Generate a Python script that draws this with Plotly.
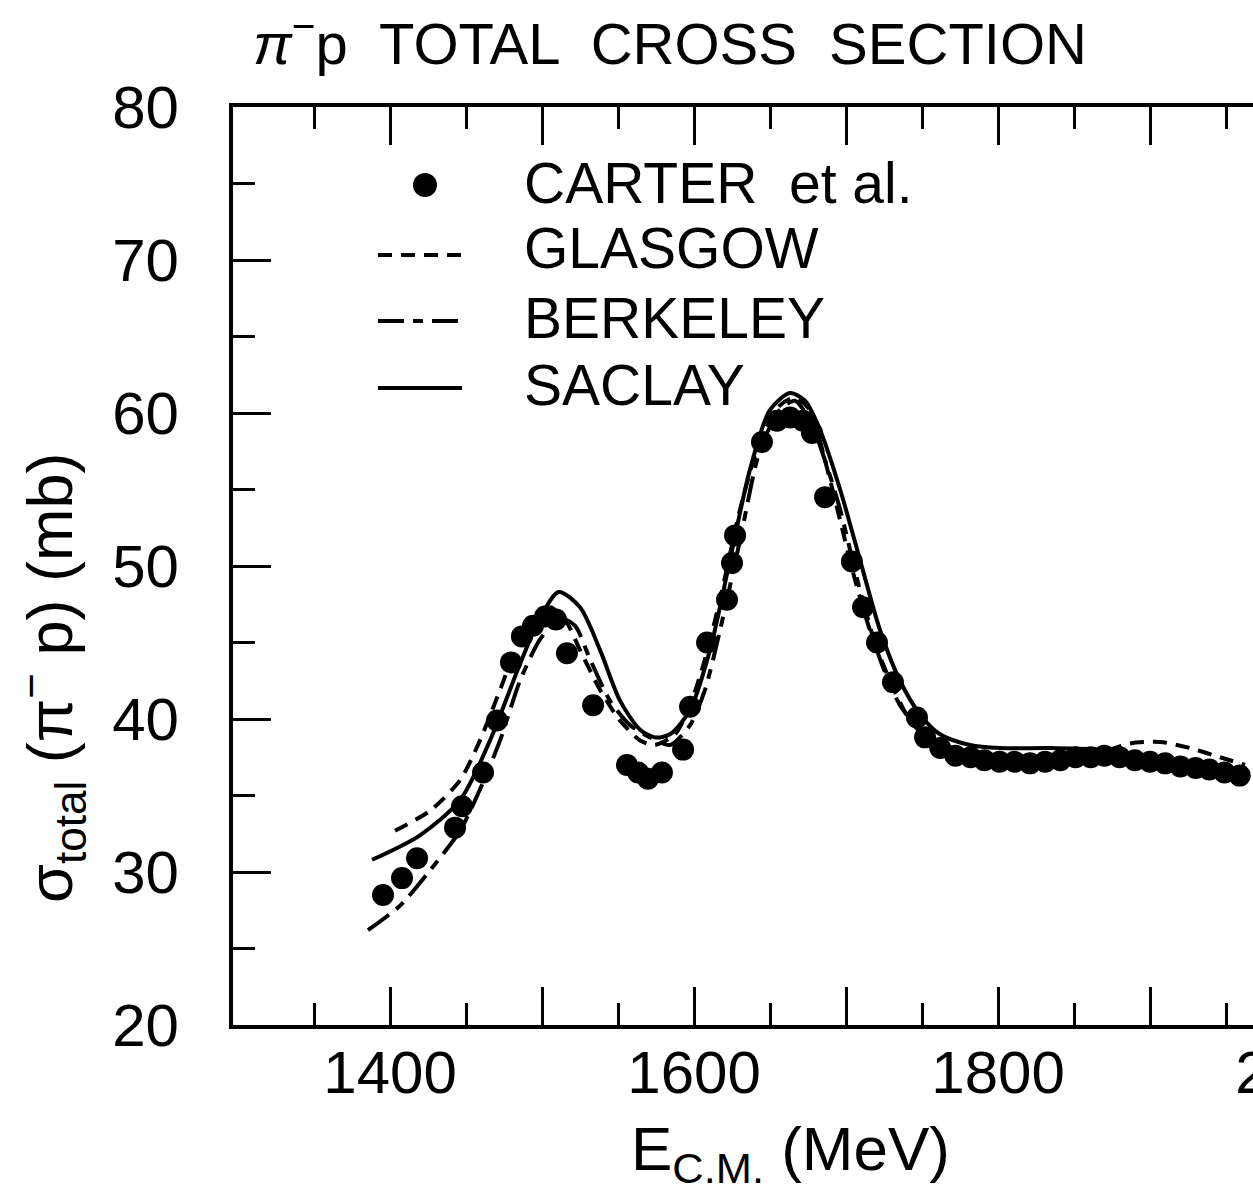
import plotly.graph_objects as go

# ---------------- data ----------------
carter_e = [1395.4, 1407.9, 1417.8, 1442.8, 1447.4, 1461.2, 1470.4, 1479.6, 1486.8, 1494.1,
            1502.0, 1509.2, 1516.4, 1533.6, 1555.9, 1563.2, 1569.7, 1578.9, 1592.8, 1597.4,
            1608.6, 1621.7, 1625.0, 1627.0, 1644.7, 1654.6, 1663.2, 1671.7, 1677.6, 1686.2,
            1703.9, 1711.2, 1720.4, 1730.9, 1746.7, 1752, 1762, 1772, 1782, 1791, 1801, 1811,
            1821, 1831, 1841, 1851, 1861, 1870, 1880, 1890, 1900, 1910, 1920, 1930, 1939,
            1949, 1959]
carter_sigma = [28.5, 29.6, 30.9, 32.9, 34.3, 36.5, 39.9, 43.7, 45.4, 46.1,
                46.7, 46.5, 44.3, 40.9, 37.0, 36.5, 36.1, 36.5, 38.0, 40.8,
                45.0, 47.8, 50.2, 52.0, 58.1, 59.5, 59.7, 59.5, 58.7, 54.5,
                50.3, 47.3, 45.0, 42.4, 40.1, 38.8, 38.1, 37.6, 37.5, 37.3, 37.2, 37.2,
                37.1, 37.2, 37.3, 37.5, 37.5, 37.6, 37.5, 37.3, 37.2, 37.1, 36.9, 36.8, 36.7,
                36.5, 36.3]

saclay_e = [1388.2, 1419.7, 1446.1, 1465.8, 1485.5, 1498.7, 1511.0, 1525.0, 1538.2, 1551.3,
            1564.5, 1574.3, 1584.2, 1597.4, 1610.5, 1623.7, 1636.8, 1650.0, 1663.2, 1673.0,
            1682.9, 1696.1, 1709.2, 1722.4, 1735.5, 1748.7, 1761.8, 1781.6, 1801.3, 1834.2,
            1867.1, 1900.0, 1932.9, 1962.5]
saclay_sigma = [30.8, 32.4, 34.7, 38.6, 43.6, 46.6, 48.3, 47.3, 44.5, 41.2,
                39.3, 38.8, 39.0, 40.6, 44.5, 50.4, 56.3, 60.2, 61.3, 60.8,
                58.9, 55.0, 50.4, 45.8, 42.5, 40.3, 39.0, 38.3, 38.1, 38.1,
                38.0, 37.5, 36.8, 36.3]

glasgow_e = [1403.3, 1426.3, 1446.1, 1459.2, 1472.4, 1485.5, 1498.7, 1505.3, 1515.1, 1525.0,
             1538.2, 1551.3, 1564.5, 1574.3, 1587.5, 1597.4, 1607.2, 1617.1, 1630.3, 1643.4,
             1656.6, 1666.4, 1676.3, 1686.2, 1696.1, 1705.9, 1715.8, 1728.9, 1742.1, 1755.3,
             1775.0, 1801.3, 1834.2, 1867.1, 1886.8, 1906.6, 1926.3, 1946.1, 1962.5]
glasgow_sigma = [32.7, 34.0, 36.0, 38.6, 41.9, 45.2, 46.8, 47.3, 46.5, 44.5,
                 41.9, 39.9, 38.6, 38.3, 39.0, 40.9, 43.9, 47.8, 53.7, 58.2,
                 60.5, 61.0, 60.2, 56.9, 53.0, 49.1, 45.8, 42.5, 39.9, 38.6,
                 38.0, 37.6, 37.5, 37.8, 38.4, 38.5, 38.1, 37.5, 37.0]

berkeley_e = [1385.5, 1406.6, 1426.3, 1446.1, 1459.2, 1472.4, 1485.5, 1498.7, 1511.8, 1521.7,
              1531.6, 1544.7, 1557.9, 1571.1, 1584.2, 1597.4, 1607.2, 1617.1, 1630.3, 1643.4,
              1656.6, 1666.4, 1676.3, 1686.2, 1696.1, 1709.2, 1722.4, 1735.5, 1748.7, 1761.8,
              1801.3, 1867.1, 1900.0, 1932.9, 1959.2]
berkeley_sigma = [26.2, 27.8, 30.1, 32.7, 35.4, 38.6, 42.5, 45.2, 46.6, 46.1,
                  43.9, 41.2, 39.6, 38.8, 38.3, 39.6, 41.9, 45.8, 51.7, 57.6,
                  60.2, 60.8, 59.5, 56.9, 53.7, 48.4, 43.9, 40.9, 39.3, 38.3,
                  37.6, 37.5, 37.2, 36.8, 36.3]

x_major = [1400, 1500, 1600, 1700, 1800, 1900, 2000]
x_labels = ["1400", "", "1600", "", "1800", "", "2000"]
x_minor = [1350, 1450, 1550, 1650, 1750, 1850, 1950, 2050]
y_major = [20, 30, 40, 50, 60, 70, 80]
y_minor = [25, 35, 45, 55, 65, 75]

legend_names = ["CARTER  et al.", "GLASGOW", "BERKELEY", "SACLAY"]

FONT = "Liberation Sans, Arial, Helvetica, sans-serif"
BLACK = "black"
GLASGOW_DASH = "14px,9px"
BERKELEY_DASH = "26px,9px,10px,9px"

fig = go.Figure()
fig.add_trace(go.Scatter(x=glasgow_e, y=glasgow_sigma, mode="lines",
                         line=dict(color=BLACK, width=4, dash=GLASGOW_DASH, shape="spline", smoothing=0.7),
                         showlegend=False))
fig.add_trace(go.Scatter(x=berkeley_e, y=berkeley_sigma, mode="lines",
                         line=dict(color=BLACK, width=4, dash=BERKELEY_DASH, shape="spline", smoothing=0.7),
                         showlegend=False))
fig.add_trace(go.Scatter(x=saclay_e, y=saclay_sigma, mode="lines",
                         line=dict(color=BLACK, width=4, shape="spline", smoothing=0.8),
                         showlegend=False))
fig.add_trace(go.Scatter(x=carter_e, y=carter_sigma, mode="markers",
                         marker=dict(color=BLACK, size=22, line=dict(width=0)),
                         showlegend=False))

# plot area in pixels: x 233..1400, y 107..1025 (page is cropped at 1253 like the reference)
PW, PH = 1167.0, 918.0
def px(x):
    return (x - 233) / PW
def py(y):
    return (1025 - y) / PH

shapes = []
# legend symbols
shapes.append(dict(type="circle", xref="paper", yref="paper",
                   x0=px(413), x1=px(437), y0=py(197), y1=py(173),
                   fillcolor=BLACK, line=dict(width=0)))
for yy, dash in [(255, GLASGOW_DASH), (321, BERKELEY_DASH), (388, "solid")]:
    shapes.append(dict(type="line", xref="paper", yref="paper",
                       x0=px(378), x1=px(462), y0=py(yy), y1=py(yy),
                       line=dict(color=BLACK, width=4, dash=dash)))

annotations = []
for name, yy in zip(legend_names, [183, 248, 318, 385]):
    annotations.append(dict(text=name, xref="paper", yref="paper", x=px(522), y=py(yy),
                            xanchor="left", yanchor="middle", showarrow=False,
                            font=dict(family=FONT, size=57, color=BLACK)))
annotations.append(dict(text="<i>π</i><sup>−</sup>p  TOTAL  CROSS  SECTION", xref="paper", yref="paper",
                        x=px(670), y=py(40), xanchor="center", yanchor="middle", showarrow=False,
                        font=dict(family=FONT, size=58, color=BLACK)))
annotations.append(dict(text="σ<sub>total</sub> (π<sup>−</sup> p) (mb)", xref="paper", yref="paper",
                        x=px(50), y=py(678), xanchor="center", yanchor="middle", textangle=-90,
                        showarrow=False, font=dict(family=FONT, size=63, color=BLACK)))
annotations.append(dict(text="E<sub>C.M.</sub> (MeV)", xref="paper", yref="paper",
                        x=px(790), y=py(1153), xanchor="center", yanchor="middle", showarrow=False,
                        font=dict(family=FONT, size=62, color=BLACK)))

fig.update_layout(
    width=1400, height=1197,
    margin=dict(l=233, r=0, t=107, b=172, autoexpand=False),
    paper_bgcolor="white", plot_bgcolor="white",
    shapes=shapes, annotations=annotations,
    showlegend=False,
    xaxis=dict(range=[1296.7, 1296.7 + 1167 / 1.52], showgrid=False, zeroline=False,
               showline=True, linewidth=4, linecolor=BLACK, mirror="ticks",
               tickmode="array", tickvals=x_major, ticktext=x_labels,
               ticks="inside", ticklen=38, tickwidth=3, tickcolor=BLACK,
               minor=dict(tickmode="array", tickvals=x_minor, ticks="inside", ticklen=22,
                          tickwidth=3, tickcolor=BLACK, showgrid=False),
               ticklabelstandoff=-8, ticklabeloverflow="allow",
               tickfont=dict(family=FONT, size=60, color=BLACK)),
    yaxis=dict(range=[20, 80], showgrid=False, zeroline=False,
               showline=True, linewidth=4, linecolor=BLACK, mirror="ticks",
               tickmode="array", tickvals=y_major,
               ticks="inside", ticklen=38, tickwidth=3, tickcolor=BLACK,
               minor=dict(tickmode="array", tickvals=y_minor, ticks="inside", ticklen=22,
                          tickwidth=3, tickcolor=BLACK, showgrid=False),
               ticklabelstandoff=38,
               tickfont=dict(family=FONT, size=60, color=BLACK)),
)

fig.write_html("out.html",
               post_script="document.documentElement.style.overflow='hidden';document.body.style.overflow='hidden';")
